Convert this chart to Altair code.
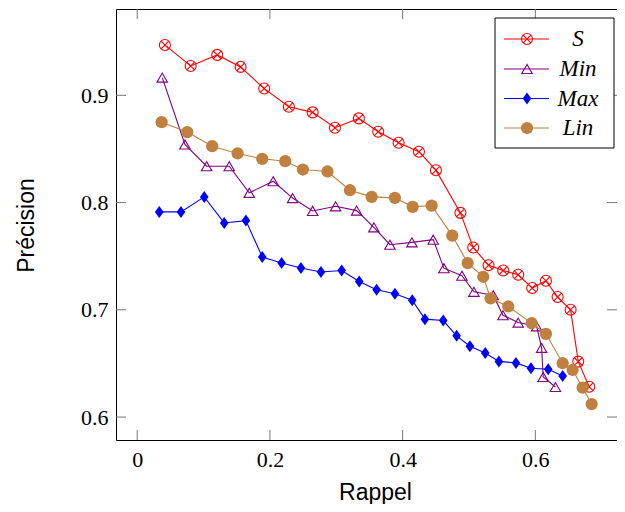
import altair as alt
import pandas as pd

# ---------------- data ----------------
S_x = [0.0417, 0.0805, 0.1206, 0.1558, 0.1914, 0.2286, 0.2644, 0.2980, 0.3341, 0.3632,
       0.3940, 0.4246, 0.4502, 0.4871, 0.5064, 0.5295, 0.5516, 0.5742, 0.5953, 0.6160,
       0.6336, 0.6532, 0.6647, 0.6812]
S_y = [0.9470, 0.9274, 0.9377, 0.9265, 0.9063, 0.8894, 0.8841, 0.8698, 0.8785, 0.8661,
       0.8558, 0.8474, 0.8302, 0.7904, 0.7581, 0.7416, 0.7367, 0.7327, 0.7203, 0.7271,
       0.7119, 0.7000, 0.6517, 0.6283]

Min_x = [0.0377, 0.0719, 0.1046, 0.1387, 0.1688, 0.2050, 0.2342, 0.2644, 0.2990, 0.3307,
         0.3567, 0.3809, 0.4140, 0.4461, 0.4622, 0.4894, 0.5075, 0.5365, 0.5512, 0.5742,
         0.6020, 0.6095, 0.6119, 0.6303]
Min_y = [0.9165, 0.8542, 0.8339, 0.8339, 0.8091, 0.8199, 0.8042, 0.7922, 0.7965, 0.7925,
         0.7769, 0.7607, 0.7629, 0.7654, 0.7388, 0.7318, 0.7168, 0.7136, 0.6949, 0.6881,
         0.6846, 0.6645, 0.6374, 0.6280]

Max_x = [0.0332, 0.0659, 0.1010, 0.1311, 0.1638, 0.1884, 0.2176, 0.2467, 0.2769, 0.3081,
         0.3346, 0.3608, 0.3884, 0.4145, 0.4336, 0.4612, 0.4814, 0.5014, 0.5245, 0.5451,
         0.5708, 0.5934, 0.6194, 0.6412]
Max_y = [0.7913, 0.7913, 0.8053, 0.7810, 0.7832, 0.7493, 0.7436, 0.7390, 0.7352, 0.7367,
         0.7264, 0.7187, 0.7150, 0.7089, 0.6913, 0.6900, 0.6757, 0.6661, 0.6598, 0.6519,
         0.6505, 0.6455, 0.6446, 0.6383]

Lin_x = [0.0368, 0.0754, 0.1130, 0.1513, 0.1884, 0.2231, 0.2497, 0.2867, 0.3206, 0.3533,
         0.3884, 0.4151, 0.4437, 0.4748, 0.4980, 0.5215, 0.5326, 0.5592, 0.5944, 0.6160,
         0.6412, 0.6562, 0.6713, 0.6849]
Lin_y = [0.8750, 0.8657, 0.8526, 0.8458, 0.8408, 0.8386, 0.8308, 0.8290, 0.8115, 0.8053,
         0.8044, 0.7960, 0.7972, 0.7692, 0.7436, 0.7308, 0.7107, 0.7031, 0.6876, 0.6776,
         0.6502, 0.6439, 0.6274, 0.6121]

SERIES = ["S", "Min", "Max", "Lin"]
COLORS = ["#FF0000", "#800080", "#0000FF", "#BF8040"]
X_TICKS = [0, 0.2, 0.4, 0.6]
Y_TICKS = [0.6, 0.7, 0.8, 0.9]
X_DOMAIN = [-0.032, 0.7231]
Y_DOMAIN = [0.5786, 0.9805]

# ---------------- layout ----------------
W, H = 501, 431
TICK = 10
SERIF = "'Liberation Serif', 'Times New Roman', serif"
SANS = "'Liberation Sans', Arial, sans-serif"

xscale = alt.Scale(domain=X_DOMAIN, nice=False, zero=False)
yscale = alt.Scale(domain=Y_DOMAIN, nice=False, zero=False)

xaxis = alt.Axis(values=X_TICKS, title="Rappel", ticks=False, tickSize=0, domain=False, grid=False,
                 labelFont=SERIF, labelFontSize=22, labelColor="black", labelBaseline="alphabetic",
                 labelPadding=26, labelFlush=False, labelOverlap=False, format="~g",
                 titleFont=SANS, titleFontSize=23, titleFontWeight="normal", titleColor="black",
                 titleX=259, titleY=59, titleBaseline="alphabetic", titleAlign="center")
yaxis = alt.Axis(values=Y_TICKS, title="Précision", ticks=False, tickSize=0, domain=False, grid=False,
                 labelFont=SERIF, labelFontSize=22, labelColor="black", labelBaseline="middle",
                 labelAlign="right", labelPadding=8, labelFlush=False, labelOverlap=False, format=".1f",
                 titleFont=SANS, titleFontSize=23, titleFontWeight="normal", titleColor="black",
                 titleX=-83, titleY=216, titleBaseline="alphabetic", titleAlign="center", titleAngle=270)

X = lambda: alt.X("x:Q", scale=xscale, axis=xaxis)
Y = lambda: alt.Y("y:Q", scale=yscale, axis=yaxis)

XSHAPE = "M-0.7,-0.7L0.7,0.7M-0.7,0.7L0.7,-0.7"
DIAMOND = "M0,-1L0.72,0L0,1L-0.72,0Z"

def markers(base, name, color):
    if name == "S":
        return [base.mark_point(shape="circle", filled=False, size=121, strokeWidth=1.1, color=color, opacity=1),
                base.mark_point(shape=XSHAPE, filled=False, size=121, strokeWidth=1.1, color=color, opacity=1)]
    if name == "Min":
        return [base.mark_point(shape="triangle-up", filled=False, size=110, strokeWidth=1.1, color=color, opacity=1)]
    if name == "Max":
        return [base.mark_point(shape=DIAMOND, filled=True, size=144, color=color, opacity=1, strokeWidth=0)]
    return [base.mark_point(shape="circle", filled=True, size=150, color=color, opacity=1, strokeWidth=0)]

layers = []

# inner ticks (pgfplots style, on all four sides)
ydf = pd.DataFrame({"y": Y_TICKS})
xdf = pd.DataFrame({"x": X_TICKS})
tick_style = dict(color="#777777", strokeWidth=1)
layers.append(alt.Chart(ydf).mark_rule(**tick_style).encode(y=Y(), x=alt.value(0), x2=alt.value(TICK)))
layers.append(alt.Chart(ydf).mark_rule(**tick_style).encode(y=Y(), x=alt.value(W - TICK), x2=alt.value(W)))
layers.append(alt.Chart(xdf).mark_rule(**tick_style).encode(x=X(), y=alt.value(H - TICK), y2=alt.value(H)))
layers.append(alt.Chart(xdf).mark_rule(**tick_style).encode(x=X(), y=alt.value(0), y2=alt.value(TICK)))

all_x = [S_x, Min_x, Max_x, Lin_x]
all_y = [S_y, Min_y, Max_y, Lin_y]
for name, color, xs, ys in zip(SERIES, COLORS, all_x, all_y):
    df = pd.DataFrame({"x": xs, "y": ys, "order": list(range(len(xs)))})
    base = alt.Chart(df).encode(x=X(), y=Y())
    layers.append(base.mark_line(color=color, strokeWidth=1.1).encode(order="order:O"))
    layers.extend(markers(base, name, color))

# legend box (north east, like pgfplots)
DX = -9
LX0, LX1, LY0, LY1 = 388 + DX, 507 + DX, 9, 139
one = pd.DataFrame({"k": [0]})
layers.append(alt.Chart(one).mark_rect(fill="white", stroke="black", strokeWidth=1).encode(
    x=alt.value(LX0), x2=alt.value(LX1), y=alt.value(LY0), y2=alt.value(LY1)))
ROWS = [30, 60, 89.5, 119]
for name, color, ry in zip(SERIES, COLORS, ROWS):
    ldf = pd.DataFrame({"series": [name]})
    lb = alt.Chart(ldf)
    layers.append(lb.mark_rule(color=color, strokeWidth=1.1).encode(
        x=alt.value(397 + DX), x2=alt.value(442 + DX), y=alt.value(ry)))
    for m in markers(lb, name, color):
        layers.append(m.encode(x=alt.value(420 + DX), y=alt.value(ry)))
    layers.append(lb.mark_text(font=SERIF, fontStyle="italic", fontSize=23, color="black",
                               align="center", baseline="middle").encode(
        x=alt.value(471 + DX), y=alt.value(ry), text="series:N"))

chart = alt.layer(*layers).properties(
    width=W, height=H,
    padding={"left": 108, "top": 1, "right": 0, "bottom": 64},
    autosize=alt.AutoSizeParams(type="none"),
    background="white",
).configure_view(stroke="black", strokeWidth=1)

chart.save("out.html", embed_options={"renderer": "svg", "actions": False})
